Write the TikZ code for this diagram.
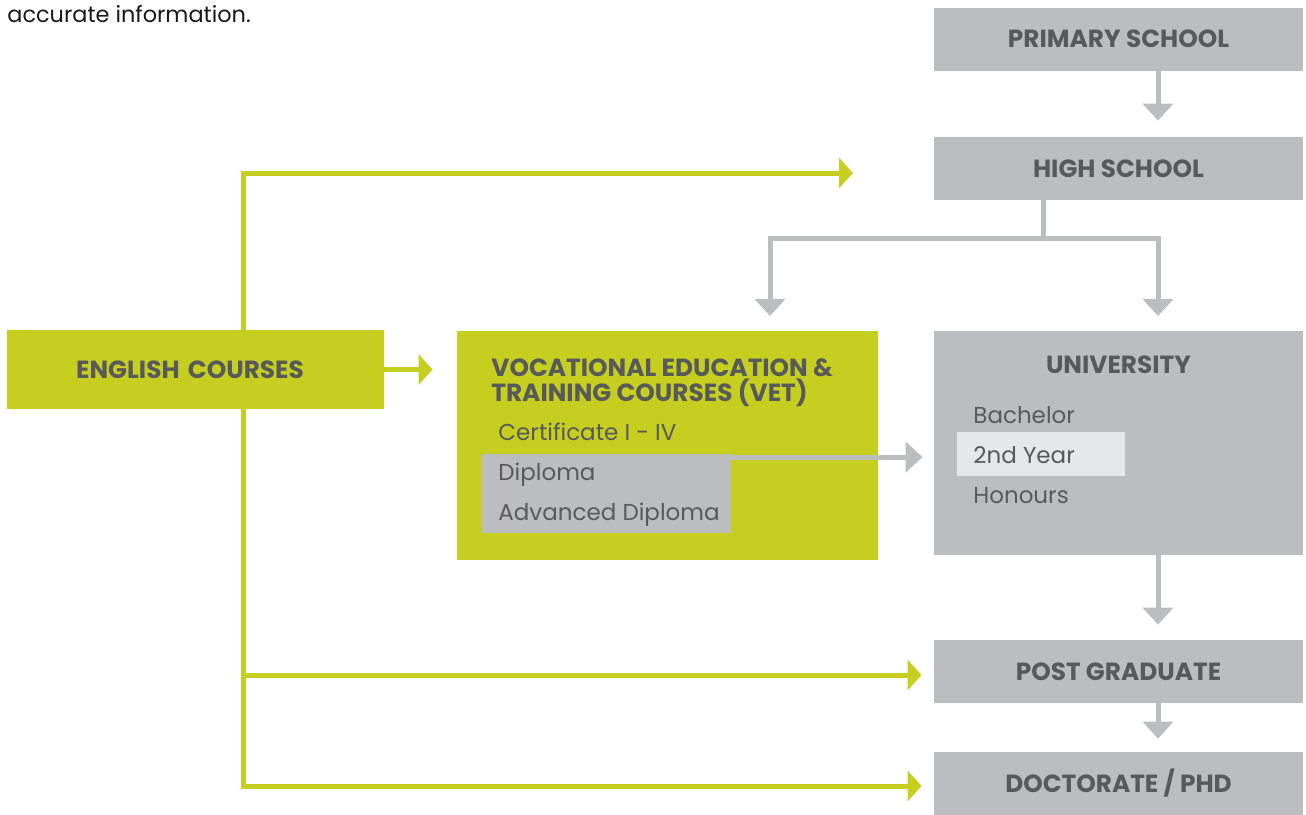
\documentclass[tikz,border=0pt]{standalone}
\usepackage{fontspec}
\setmainfont{Poppins}
\usetikzlibrary{arrows.meta}
\definecolor{lime}{HTML}{C6CF1F}
\definecolor{boxgray}{HTML}{BCBDBF}
\definecolor{hilite}{HTML}{E6E7E8}
\definecolor{txtgray}{HTML}{58595B}
\begin{document}
\begin{tikzpicture}[x=0.5pt,y=-0.5pt,
        box/.style={inner sep=0pt, minimum width=184.5pt, minimum height=31.5pt},
        head/.style={text=txtgray, font=\bfseries\fontsize{12.4}{14}\selectfont},
        item/.style={text=txtgray, font=\fontsize{11.5}{13}\selectfont, inner sep=0pt, anchor=base west},
        grline/.style={draw=boxgray, line width=2.5pt},
        grarrow/.style={grline, -{Triangle[width=15pt,length=8.5pt]}},
        gnline/.style={draw=lime, line width=2.5pt},
        gnarrow/.style={gnline, -{Triangle[width=15pt,length=7pt]}}]
        \useasboundingbox (0,0) rectangle (1306,814);
        
        \node[anchor=base west, inner sep=0pt, text=black!90, font=\fontsize{11.2}{13}\selectfont, name=intro] at (7,22) {accurate information.};
        
        % right column
        \node[box, fill=boxgray, head, name=primary] at (1118.5,39)    {PRIMARY SCHOOL};
        \node[box, fill=boxgray, head, name=high]    at (1118.5,168.5) {HIGH SCHOOL};
        \node[box, fill=boxgray, minimum height=112pt, name=uni] at (1118.5,443) {};
        \node[box, fill=boxgray, head, name=post]    at (1118.5,671.5) {POST GRADUATE};
        \node[box, fill=boxgray, head, name=phd]     at (1118.5,783.5) {DOCTORATE / PHD};
        %
        \node[head, name=unititle] at (1118.5,365) {UNIVERSITY};
        \node[fill=hilite, inner sep=0pt, minimum width=84pt, minimum height=22pt, name=yearbox] at (1041,454) {};
        \node[item, name=bachelor] at (973,423) {Bachelor};
        \node[item, name=year]     at (973,463) {2nd Year};
        \node[item, name=honours]  at (973,503) {Honours};
        
        % english + vet
        \node[box, fill=lime, head, minimum width=188.5pt, minimum height=39.5pt, text width=188.5pt, align=center, name=english] at (195.5,369.5) {\hspace*{-5.5pt}ENGLISH COURSES};
        \node[box, fill=lime, minimum width=210.5pt, minimum height=114.5pt, name=vet] at (667.5,445.5) {};
        \node[head, inner sep=0pt, anchor=base west, name=vettop] at (491,376) {VOCATIONAL EDUCATION \&};
        \node[head, inner sep=0pt, anchor=base west, name=vetbot] at (491,401) {TRAINING COURSES (VET)};
        \node[fill=boxgray, inner sep=0pt, minimum width=124.5pt, minimum height=39.5pt, name=dipbox] at (606.5,493.5) {};
        \node[item, name=cert]    at (498,440) {Certificate I - IV};
        \node[item, name=diploma] at (498,480) {Diploma};
        \node[item, name=advdip]  at (498,520) {Advanced Diploma};
        
        % gray arrows
        \draw[grarrow, shorten >=8pt] (primary.south -| 1158,0) -- (high.north -| 1158,0);
        \coordinate (split) at (1043,238);
        \draw[grline] ([xshift=-37.75pt]high.south) -- (split);
        \draw[grarrow] (split) -| (770,316);
        \draw[grarrow] (split) -| (1158,316);
        \draw[grarrow, shorten >=5.5pt] ([yshift=-1.75pt]dipbox.north east) -- ([yshift=-1.75pt]dipbox.north east -| uni.west);
        \draw[grarrow, shorten >=7.5pt] (uni.south -| 1158,0) -- (post.north -| 1158,0);
        \draw[grarrow, shorten >=6.5pt] (post.south -| 1158,0) -- (phd.north -| 1158,0);
        
        % green arrows
        \coordinate (jtop) at (243,330);
        \coordinate (jbot) at (243,409);
        \coordinate (hsend) at (853,173);
        \draw[gnarrow] (jtop) |- (hsend);
        \draw[gnarrow, shorten >=12pt] (english.east) -- (english.east -| vet.west);
        \draw[gnarrow, shorten >=6pt] (jbot) |- ([yshift=-1.25pt]phd.west);
        \draw[gnarrow, shorten >=6pt] (jbot |- post.west) ++(0,3.5) -- ([yshift=-1.75pt]post.west);
        
        \end{tikzpicture}
\end{document}
